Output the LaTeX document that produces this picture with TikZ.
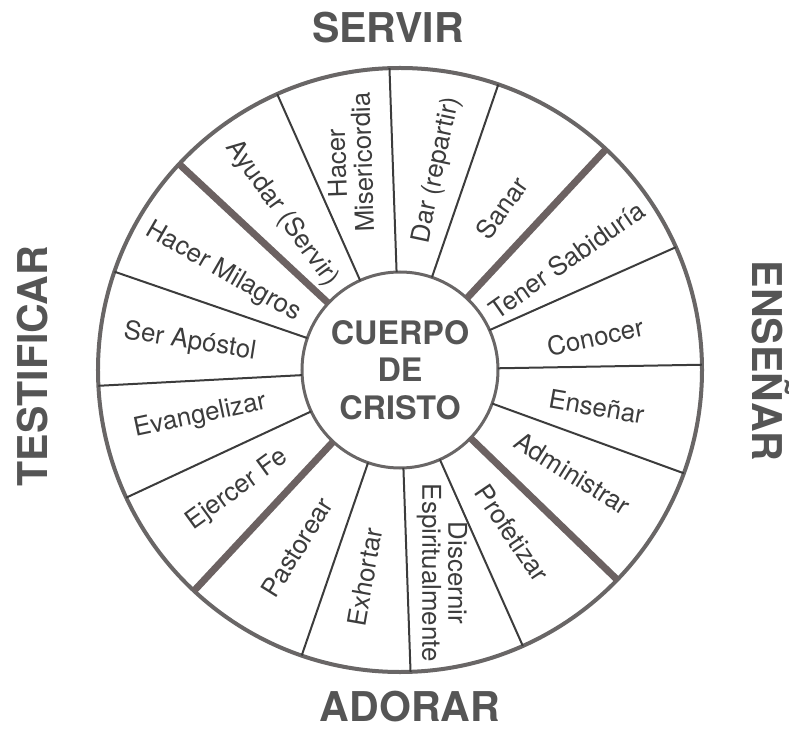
\documentclass[tikz,border=0pt]{standalone}
\usepackage{fontspec}
\setmainfont{TeX Gyre Heros}
\usetikzlibrary{calc}

\definecolor{inkgray}{RGB}{60,60,60}
\definecolor{rimgray}{RGB}{105,102,102}
\definecolor{barbrown}{RGB}{108,98,98}
\definecolor{titlegray}{RGB}{85,85,85}

\tikzset{
    gift/.style={text=inkgray, inner sep=0pt, align=center,
        font=\fontsize{18.4}{18.6}\selectfont},
    spoke/.style={draw=inkgray, line width=0.05cm},
    divider/.style={draw=barbrown, line width=0.175cm},
    area/.style={text=titlegray, inner sep=0pt,
        font=\fontsize{29.2}{30}\selectfont\bfseries},
}

\begin{document}
\begin{tikzpicture}
        \useasboundingbox (-10,-9) rectangle (9.725,9.25);

        \node (rim) [circle, draw=rimgray, line width=0.1cm, minimum size=15.1cm, outer sep=0pt] at (0,0) {};
        \node (hub) [circle, draw=rimgray, line width=0.075cm, minimum size=4.9cm, inner sep=0pt, outer sep=0pt,
            align=center, text=titlegray, font=\fontsize{23}{26.5}\selectfont\bfseries] at (0,0) {CUERPO\\DE\\CRISTO};

        % spokes, thick ones between the four areas
        \draw [spoke] (hub.1) -- (rim.1);
        \draw [spoke] (hub.24) -- (rim.24);
        \draw [divider] (hub.47) -- (rim.47);
        \draw [spoke] (hub.71) -- (rim.71);
        \draw [spoke] (hub.92) -- (rim.92);
        \draw [spoke] (hub.114.5) -- (rim.114.5);
        \draw [divider] (hub.137.5) -- (rim.137.5);
        \draw [spoke] (hub.161) -- (rim.161);
        \draw [spoke] (hub.183) -- (rim.183);
        \draw [spoke] (hub.205.5) -- (rim.205.5);
        \draw [divider] (hub.227) -- (rim.227);
        \draw [spoke] (hub.251) -- (rim.251);
        \draw [spoke] (hub.272) -- (rim.272);
        \draw [spoke] (hub.294) -- (rim.294);
        \draw [divider] (hub.316) -- (rim.316);
        \draw [spoke] (hub.340) -- (rim.340);

        \node (conocer) [gift, rotate=12] at ($(hub.center) + (9.6:4.95)$) {Conocer};
        \node (sabiduria) [gift, rotate=35] at ($(hub.center) + (33.4:5)$) {Tener Sabiduría};
        \node (sanar) [gift, rotate=55] at ($(hub.center) + (57.8:4.78)$) {Sanar};
        \node (dar) [gift, rotate=78] at ($(hub.center) + (79.5:5.08)$) {Dar (repartir)};
        \node (misericordia) [gift, rotate=92] at ($(hub.center) + (103.6:5.33)$) {Hacer\\Misericordia};
        \node (ayudar) [gift, rotate=-54] at ($(hub.center) + (127:4.9)$) {Ayudar (Servir)};
        \node (milagros) [gift, rotate=-30] at ($(hub.center) + (151:5.05)$) {Hacer Milagros};
        \node (apostol) [gift, rotate=-9] at ($(hub.center) + (172.4:5.3)$) {Ser Apóstol};
        \node (evangelizar) [gift, rotate=12] at ($(hub.center) + (193:5.13)$) {Evangelizar};
        \node (fe) [gift, rotate=36] at ($(hub.center) + (216.4:5.05)$) {Ejercer Fe};
        \node (pastorear) [gift, rotate=58] at ($(hub.center) + (239.8:5.13)$) {Pastorear};
        \node (exhortar) [gift, rotate=80] at ($(hub.center) + (260.4:5.25)$) {Exhortar};
        \node (discernir) [gift, rotate=-90] at ($(hub.center) + (281.7:5.18)$) {Discernir\\Espiritualmente};
        \node (profetizar) [gift, rotate=-56] at ($(hub.center) + (304.5:4.95)$) {Profetizar};
        \node (administrar) [gift, rotate=-32] at ($(hub.center) + (329:5.03)$) {Administrar};
        \node (ensenar-gift) [gift, rotate=-10] at ($(hub.center) + (349.4:5)$) {Enseñar};

        \node (servir) [area] at (-0.3,8.55) {SERVIR};
        \node (ensenar) [area, rotate=-90] at (9.275,0.225) {ENSEÑAR};
        \node (adorar) [area] at (0.25,-8.42) {ADORAR};
        \node (testificar) [area, rotate=90] at (-9.175,0.1) {TESTIFICAR};
    \end{tikzpicture}
\end{document}
